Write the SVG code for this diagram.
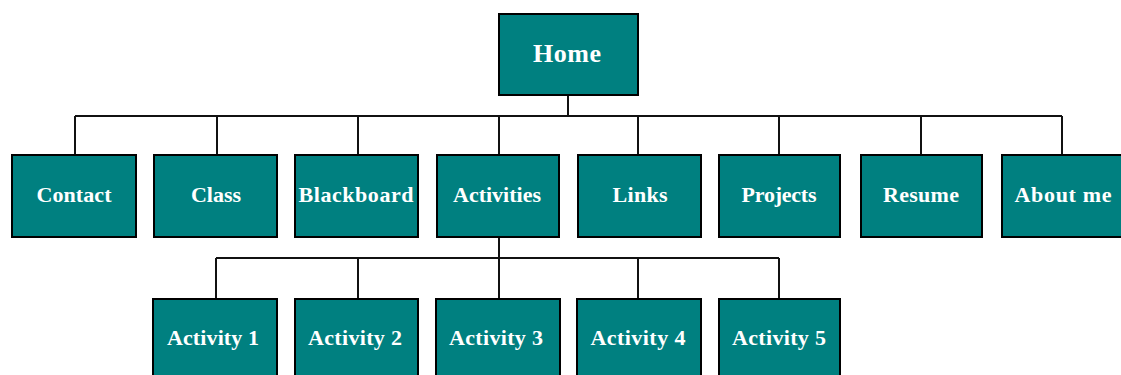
<svg xmlns="http://www.w3.org/2000/svg" width="1121" height="375" viewBox="0 0 1121 375">
<style>
.box{fill:#008080;stroke:#000;stroke-width:2}
.lbl{font-family:"Liberation Serif","Times New Roman",serif;font-weight:bold;font-size:22px;fill:#fff;text-anchor:middle}
.home{font-size:26px}
.con{fill:none;stroke:#111;stroke-width:2}
</style>
<rect width="1121" height="375" fill="#fff"/>
<g id="connectors" class="con">
<path d="M568,95 V116 M75,116 H1062 M75,116 V155 M217,116 V155 M358,116 V155 M499,116 V155 M638,116 V155 M779,116 V155 M921,116 V155 M1062,116 V155"/>
<path d="M499,237 V258 M216,258 H779 M216,258 V299 M358,258 V299 M499,258 V299 M638,258 V299 M779,258 V299"/>
</g>
<g id="home"><rect class="box" x="499" y="14" width="139" height="81"/><text class="lbl home" x="567" y="62" textLength="68">Home</text></g>
<g id="contact"><rect class="box" x="12" y="155" width="124" height="82"/><text class="lbl" x="74" y="202" textLength="75">Contact</text></g>
<g id="class"><rect class="box" x="154" y="155" width="123" height="82"/><text class="lbl" x="216" y="202" textLength="50">Class</text></g>
<g id="blackboard"><rect class="box" x="295" y="155" width="123" height="82"/><text class="lbl" x="356" y="202" textLength="115">Blackboard</text></g>
<g id="activities"><rect class="box" x="437" y="155" width="122" height="82"/><text class="lbl" x="497" y="202" textLength="88">Activities</text></g>
<g id="links"><rect class="box" x="578" y="155" width="123" height="82"/><text class="lbl" x="640" y="202" textLength="55">Links</text></g>
<g id="projects"><rect class="box" x="719" y="155" width="121" height="82"/><text class="lbl" x="779" y="202" textLength="75">Projects</text></g>
<g id="resume"><rect class="box" x="861" y="155" width="121" height="82"/><text class="lbl" x="921" y="202" textLength="76">Resume</text></g>
<g id="aboutme"><rect class="box" x="1002" y="155" width="125" height="82"/><text class="lbl" x="1063" y="202" textLength="97">About me</text></g>
<g id="activity1"><rect class="box" x="153" y="299" width="124" height="82"/><text class="lbl" x="213" y="345" textLength="92">Activity 1</text></g>
<g id="activity2"><rect class="box" x="295" y="299" width="123" height="82"/><text class="lbl" x="355" y="345" textLength="94">Activity 2</text></g>
<g id="activity3"><rect class="box" x="436" y="299" width="124" height="82"/><text class="lbl" x="496" y="345" textLength="94">Activity 3</text></g>
<g id="activity4"><rect class="box" x="577" y="299" width="124" height="82"/><text class="lbl" x="638" y="345" textLength="95">Activity 4</text></g>
<g id="activity5"><rect class="box" x="719" y="299" width="121" height="82"/><text class="lbl" x="779" y="345" textLength="94">Activity 5</text></g>
</svg>
